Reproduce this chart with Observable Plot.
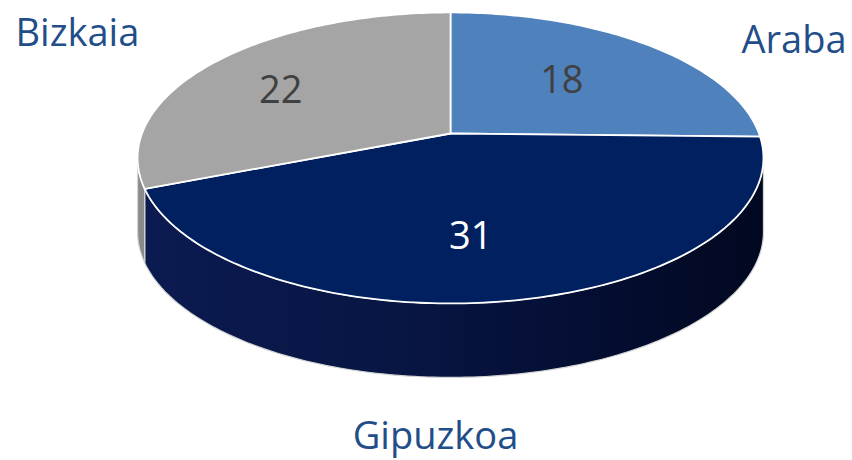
<!DOCTYPE html>
<html><head><meta charset="utf-8">
<script src="https://cdn.jsdelivr.net/npm/d3@7"></script>
<script src="https://cdn.jsdelivr.net/npm/@observablehq/plot@0.6"></script>
<style>html,body{margin:0;padding:0;background:#fff;overflow:hidden}</style>
</head><body><div id="chart"></div>
<script>
// ---- data ----
const categories = ["Araba", "Gipuzkoa", "Bizkaia"];
const values = [18, 31, 22];

// ---- styles ----
const topColors = ["#4f81bd", "#002060", "#a5a5a5"];
const wallColors = ["#3a6296", "url(#wallGrad)", "#8a8a8a"];
const valueTextColors = ["#404040", "#ffffff", "#404040"];
const labelColor = "#1f4e89";
const FONT = "Open Sans";

// ---- 3D projection (unit disc, tilted with perspective) ----
const W = 852, H = 460;
const persp = 0.168;       // back of disc is farther away
const wall = 0.523;        // wall height in projected units
const cxPx = 450, cyPx = 133, fx = 308.5, fy = 141.4;
function proj(theta, r = 1) {
  const u = Math.sin(theta) * r, v = Math.cos(theta) * r;
  const k = 1 + persp * v;
  return [u / k, v / k];
}
const total = d3.sum(values);
let acc = 0;
const slices = categories.map((c, i) => {
  const a0 = acc / total * 2 * Math.PI;
  acc += values[i];
  const a1 = acc / total * 2 * Math.PI;
  return {c, i, a0, a1, mid: (a0 + a1) / 2};
});
const arc = (s, e) => {
  const n = Math.max(2, Math.ceil((e - s) / (Math.PI / 180)));
  return d3.range(n + 1).map(j => proj(s + (e - s) * j / n));
};
const thR = Math.acos(-persp), thL = 2 * Math.PI - thR;

const tops = slices.map(s => [[0, 0], ...arc(s.a0, s.a1)].map(([x, y]) => ({x, y})));
const walls = [];
slices.forEach(s => {
  const st = Math.max(s.a0, thR), en = Math.min(s.a1, thL);
  if (en > st) {
    const top = arc(st, en);
    const bot = top.slice().reverse().map(([x, y]) => [x, y - wall]);
    walls.push({i: s.i, pts: [...top, ...bot].map(([x, y]) => ({x, y}))});
  }
});
const valueLabels = slices.map(s => {
  const [x, y] = proj(s.mid, 0.63);
  return {x, y, text: String(values[s.i]), i: s.i};
});
const catLabels = slices.map(s => {
  const u = Math.sin(s.mid), v = Math.cos(s.mid);
  const vert = v > 0.3 ? "top" : v < -0.3 ? "bottom" : "";
  const hor = u > 0.3 ? "right" : u < -0.3 ? "left" : "";
  return {text: s.c, anchor: [vert, hor].filter(Boolean).join("-") || "middle", hor, vert};
});
const inset = {left: [15, 19], right: [-6, 26], "": [9, -12]};

const marks = [];
walls.forEach(w => marks.push(Plot.line(w.pts, {x: "x", y: "y", curve: "linear-closed",
  fill: wallColors[w.i], stroke: "#d4d4d4", strokeWidth: 1.2})));
tops.forEach((t, i) => marks.push(Plot.line(t, {x: "x", y: "y", curve: "linear-closed",
  fill: topColors[i], stroke: "#ffffff", strokeWidth: 1.8, strokeLinejoin: "round"})));
valueLabels.forEach(l => marks.push(Plot.text([l], {x: "x", y: "y", text: "text",
  fill: valueTextColors[l.i], fontSize: 38, fontFamily: FONT, dx: -18, dy: 5})));
catLabels.forEach(l => {
  const [dx, dy] = inset[l.hor];
  marks.push(Plot.text([l], {frameAnchor: l.anchor, text: "text", fill: labelColor,
    fontSize: 38, fontFamily: FONT, dx, dy}));
});

const svg = Plot.plot({
  width: W, height: H, margin: 0,
  x: {domain: [(0 - cxPx) / fx, (W - cxPx) / fx], range: [0, W], axis: null},
  y: {domain: [(cyPx - H) / fy, cyPx / fy], range: [H, 0], axis: null},
  style: {fontFamily: FONT, background: "#fff"},
  marks
});
const defs = document.createElementNS("http://www.w3.org/2000/svg", "defs");
defs.innerHTML = `<linearGradient id="wallGrad" x1="0" x2="1" y1="0" y2="0">
  <stop offset="0" stop-color="#0b1a50"/>
  <stop offset="0.4" stop-color="#081644"/>
  <stop offset="0.6" stop-color="#06113a"/>
  <stop offset="1" stop-color="#010820"/>
</linearGradient>`;
svg.prepend(defs);
document.getElementById("chart").appendChild(svg);
</script>
</body></html>
